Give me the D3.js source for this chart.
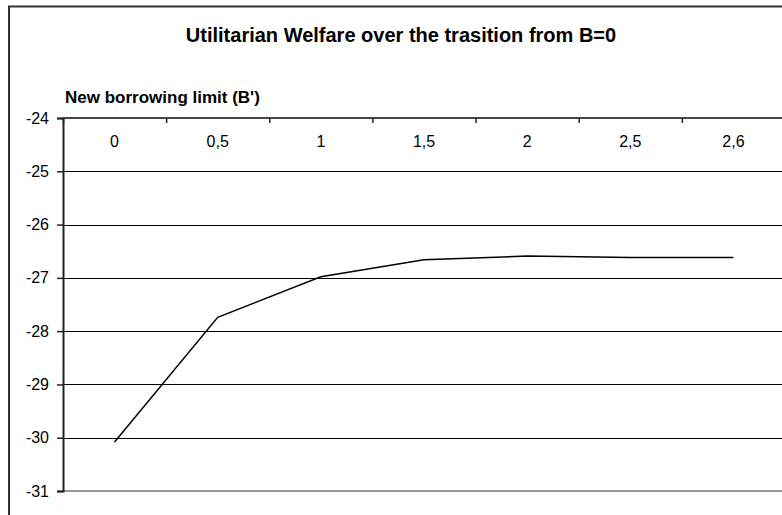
<!DOCTYPE html>
<html>
<head>
<meta charset="utf-8">
<script src="https://cdn.jsdelivr.net/npm/d3@7"></script>
<style>
  html, body { margin: 0; padding: 0; background: #fff; }
  svg { display: block; }
  text { font-family: "Liberation Sans", Arial, sans-serif; fill: #000; }
</style>
</head>
<body>
<svg id="chart" width="782" height="515"></svg>
<script>
// Welfare values for each new borrowing limit B'
const categories = ["0", "0,5", "1", "1,5", "2", "2,5", "2,6"];
const welfare = [-30.08, -27.74, -26.98, -26.66, -26.59, -26.62, -26.62];
const yTicks = [-24, -25, -26, -27, -28, -29, -30, -31];
const yDomain = [-31, -24];
const chartTitle = "Utilitarian Welfare over the trasition from B=0";
const axisTitle = "New borrowing limit (B')";

const svg = d3.select("#chart");

const plot = { left: 63, right: 785, top: 118, bottom: 491 };

const x = d3.scalePoint()
  .domain(categories)
  .range([plot.left, plot.right])
  .padding(0.5);

const xBand = d3.scaleBand()
  .domain(categories)
  .range([plot.left, plot.right]);

const y = d3.scaleLinear()
  .domain(yDomain)
  .range([plot.bottom, plot.top]);

// outer chart frame
svg.append("rect")
  .attr("x", 9).attr("y", 6.5)
  .attr("width", 800).attr("height", 540)
  .attr("fill", "none")
  .attr("stroke", "#333")
  .attr("stroke-width", 2);

// title
svg.append("text")
  .attr("x", 401).attr("y", 42)
  .attr("text-anchor", "middle")
  .style("font-size", "20px")
  .style("font-weight", "bold")
  .text(chartTitle);

// horizontal gridlines
svg.append("g")
  .selectAll("line")
  .data(yTicks.filter(v => v !== yDomain[0] && v !== yDomain[1]))
  .join("line")
  .attr("x1", plot.left).attr("x2", plot.right)
  .attr("y1", d => Math.round(y(d)) + 0.5).attr("y2", d => Math.round(y(d)) + 0.5)
  .attr("stroke", "#000")
  .attr("stroke-width", 1.2);

// bottom boundary line
svg.append("line")
  .attr("x1", plot.left).attr("x2", plot.right)
  .attr("y1", y(yDomain[0])).attr("y2", y(yDomain[0]))
  .attr("stroke", "#999")
  .attr("stroke-width", 2);

// y axis on the left
const yAxis = d3.axisLeft(y)
  .tickValues(yTicks)
  .tickSize(6)
  .tickPadding(8)
  .tickFormat(d => d3.format("d")(d).replace("−", "-"));

const gy = svg.append("g")
  .attr("transform", `translate(${plot.left},0)`)
  .call(yAxis);
gy.select(".domain").attr("stroke", "#222").attr("stroke-width", 2);
gy.selectAll(".tick line").attr("stroke", "#222").attr("stroke-width", 1.5);
gy.selectAll(".tick text")
  .style("font-size", "16px")
  .attr("fill", "#000");

// category axis along the top, ticks between categories
const xAxisLine = svg.append("g");
xAxisLine.append("line")
  .attr("x1", plot.left).attr("x2", plot.right)
  .attr("y1", plot.top).attr("y2", plot.top)
  .attr("stroke", "#444")
  .attr("stroke-width", 2);
xAxisLine.selectAll("line.tick")
  .data(categories)
  .join("line")
  .attr("class", "tick")
  .attr("x1", d => xBand(d) + 0.5).attr("x2", d => xBand(d) + 0.5)
  .attr("y1", plot.top).attr("y2", plot.top + 5)
  .attr("stroke", "#222")
  .attr("stroke-width", 1.5);
xAxisLine.selectAll("text")
  .data(categories)
  .join("text")
  .attr("x", d => x(d))
  .attr("y", plot.top + 29)
  .attr("text-anchor", "middle")
  .style("font-size", "16px")
  .text(d => d);

// axis title
svg.append("text")
  .attr("x", 65).attr("y", 103)
  .style("font-size", "17px")
  .style("font-weight", "bold")
  .text(axisTitle);

// welfare line
const line = d3.line()
  .x((d, i) => x(categories[i]))
  .y(d => y(d));

svg.append("path")
  .datum(welfare)
  .attr("d", line)
  .attr("fill", "none")
  .attr("stroke", "#000")
  .attr("stroke-width", 1.5);
</script>
</body>
</html>
